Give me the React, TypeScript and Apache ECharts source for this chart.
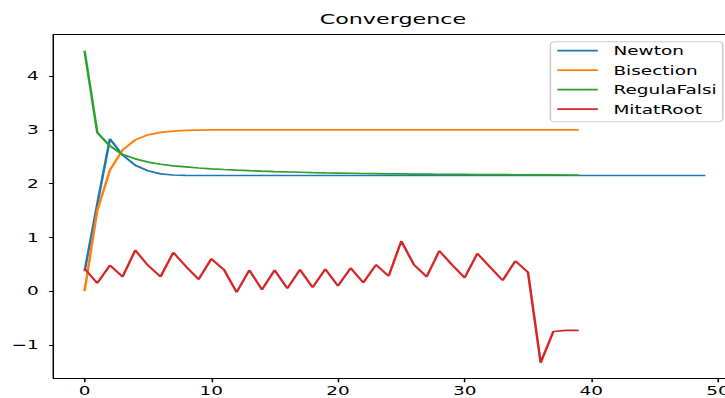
import React, { useEffect, useRef } from "react";
import * as echarts from "echarts";

const seriesNames = ["Newton", "Bisection", "RegulaFalsi", "MitatRoot"];
const colors = ["#1f77b4", "#ff7f0e", "#2ca02c", "#d62728"];

const newton = [
  0.37, 1.62, 2.83, 2.53, 2.34, 2.24, 2.18, 2.16, 2.152, 2.15,
  2.15, 2.15, 2.15, 2.15, 2.15, 2.15, 2.15, 2.15, 2.15, 2.15,
  2.15, 2.15, 2.15, 2.15, 2.15, 2.15, 2.15, 2.15, 2.15, 2.15,
  2.15, 2.15, 2.15, 2.15, 2.15, 2.15, 2.15, 2.15, 2.15, 2.15,
  2.15, 2.15, 2.15, 2.15, 2.15, 2.15, 2.15, 2.15, 2.15, 2.15,
];

const bisection = [
  0, 1.5, 2.25, 2.625, 2.8125, 2.9063, 2.9531, 2.9766, 2.9883, 2.9941,
  2.9971, 2.9985, 2.9993, 2.9996, 2.9998, 2.9999, 3, 3, 3, 3,
  3, 3, 3, 3, 3, 3, 3, 3, 3, 3,
  3, 3, 3, 3, 3, 3, 3, 3, 3, 3,
];

const regulaFalsi = [
  4.47, 2.95, 2.7, 2.54, 2.46, 2.4, 2.36, 2.33, 2.31, 2.29,
  2.275, 2.262, 2.251, 2.241, 2.232, 2.224, 2.217, 2.211, 2.205, 2.2,
  2.196, 2.192, 2.188, 2.185, 2.182, 2.18, 2.177, 2.175, 2.173, 2.171,
  2.17, 2.168, 2.167, 2.166, 2.164, 2.163, 2.162, 2.161, 2.16, 2.159,
];

const mitatRoot = [
  0.42, 0.15, 0.48, 0.27, 0.76, 0.48, 0.27, 0.72, 0.46, 0.22,
  0.6, 0.4, -0.02, 0.39, 0.03, 0.39, 0.05, 0.4, 0.07, 0.41,
  0.1, 0.43, 0.16, 0.49, 0.28, 0.93, 0.49, 0.27, 0.75, 0.49,
  0.25, 0.7, 0.45, 0.2, 0.56, 0.35, -1.33, -0.75, -0.73, -0.73,
];

const xTicks = [0, 10, 20, 30, 40, 50];
const yTicks = [-1, 0, 1, 2, 3, 4];

const FONT = "DejaVu Sans";
const SX = 725 / 483;

export default function App() {
  const ref = useRef<HTMLDivElement>(null);

  useEffect(() => {
    if (!ref.current) return;
    const chart = echarts.init(ref.current, undefined, { renderer: "svg" });
    const allData = [newton, bisection, regulaFalsi, mitatRoot];
    chart.setOption({
      animation: false,
      title: {
        text: "Convergence",
        left: 213,
        top: 11,
        padding: 0,
        textStyle: { fontFamily: FONT, fontSize: 14.8, fontWeight: "normal", color: "#000" },
      },
      legend: {
        orient: "vertical",
        left: 366.7,
        top: 41.7,
        padding: [1.5, 4, 5, 4.6],
        itemWidth: 27,
        itemHeight: 1.7,
        itemGap: 4.5,
        icon: "rect",
        borderColor: "#cccccc",
        borderWidth: 1,
        borderRadius: 3,
        backgroundColor: "rgba(255,255,255,0.8)",
        data: seriesNames,
        textStyle: {
          fontFamily: FONT,
          fontSize: 12.3,
          color: "#000",
          lineHeight: 15,
          padding: [0, 0, 0, 5.4],
        },
      },
      grid: {
        left: 35.67,
        right: 0,
        top: 34.6,
        bottom: 19.7,
        show: false,
        containLabel: false,
        outerBoundsMode: "none",
      },
      xAxis: [
        {
          type: "value",
          min: -2.45,
          max: 50.55,
          axisLine: { show: true, onZero: false, lineStyle: { color: "#000", width: 1 } },
          axisTick: { show: true, length: 4, lineStyle: { color: "#000", width: 1 }, customValues: xTicks },
          axisLabel: { customValues: xTicks, margin: 6, fontFamily: FONT, fontSize: 12.3, color: "#000" },
          splitLine: { show: false },
        },
        {
          type: "value",
          position: "top",
          min: -2.45,
          max: 50.55,
          axisLine: { show: true, onZero: false, lineStyle: { color: "#000", width: 1 } },
          axisTick: { show: false },
          axisLabel: { show: false },
          splitLine: { show: false },
        },
      ],
      yAxis: {
        type: "value",
        min: -1.62,
        max: 4.77,
        axisLine: { show: true, onZero: false, lineStyle: { color: "#000", width: 1 } },
        axisTick: { show: true, length: 3, lineStyle: { color: "#000", width: 1 }, customValues: yTicks },
        axisLabel: {
          customValues: yTicks,
          margin: 9.9,
          fontFamily: FONT,
          fontSize: 12.3,
          color: "#000",
          formatter: (v: number) => String(v).replace("-", "\u2212"),
        },
        splitLine: { show: false },
      },
      series: seriesNames.map((name, k) => ({
        name,
        type: "line",
        xAxisIndex: 0,
        data: allData[k].map((v, i) => [i, v]),
        symbol: "none",
        lineStyle: { color: colors[k], width: 1.7 },
        itemStyle: { color: colors[k] },
      })),
    });
    return () => chart.dispose();
  }, []);

  return (
    <div
      ref={ref}
      style={{
        position: "absolute",
        left: 0,
        top: 0,
        width: 483,
        height: 398,
        transform: `scaleX(${SX})`,
        transformOrigin: "0 0",
        background: "#fff",
      }}
    />
  );
}
